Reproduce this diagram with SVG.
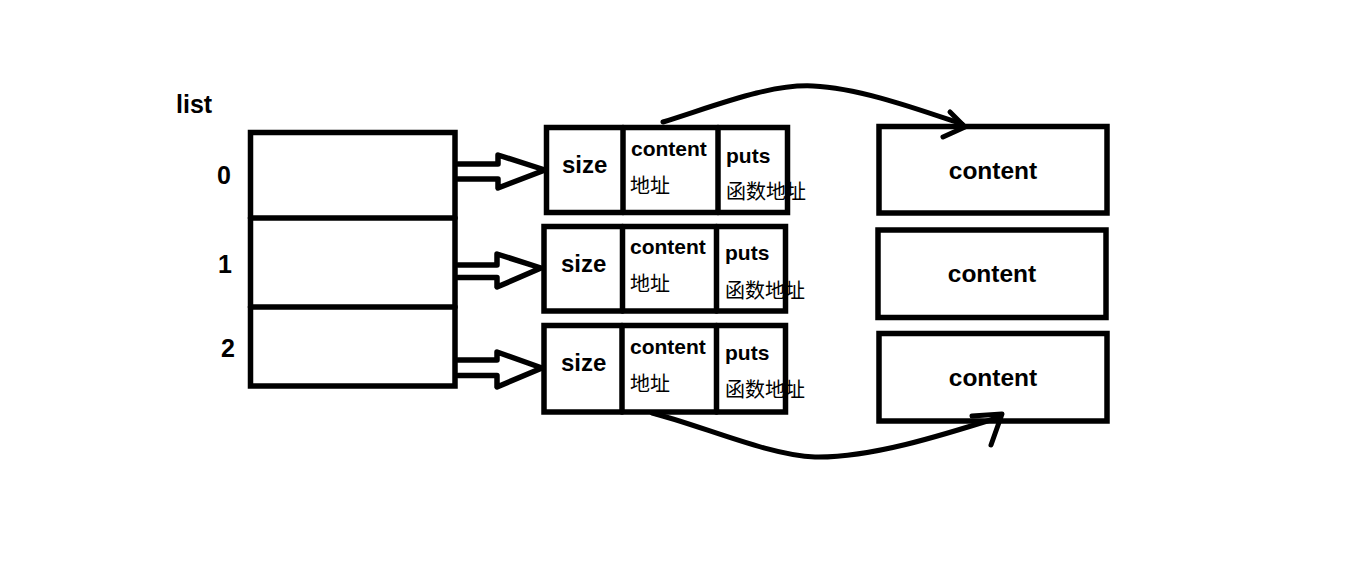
<svg xmlns="http://www.w3.org/2000/svg" width="1360" height="565" viewBox="0 0 1360 565">
<style>
.box{fill:#fff;stroke:#000;stroke-width:5.5}
.ln{fill:none;stroke:#000;stroke-width:5.5;stroke-linejoin:round;stroke-linecap:round}
.cv{fill:none;stroke:#000;stroke-width:5;stroke-linecap:round;stroke-linejoin:round}
.b{font-family:"Liberation Sans","Noto Sans CJK SC",sans-serif;font-weight:bold;fill:#000}
.cj{font-family:"Noto Sans CJK SC","Liberation Sans",sans-serif;font-size:20px;fill:#000}
</style>
<rect width="1360" height="565" fill="#fff"/>
<g id="list">
<text class="b" x="176" y="113" font-size="25">list</text>
<rect class="box" x="250.5" y="132.5" width="204.5" height="253.5"/>
<line class="ln" x1="250.5" y1="218" x2="455" y2="218" stroke-linecap="butt"/>
<line class="ln" x1="250.5" y1="307" x2="455" y2="307" stroke-linecap="butt"/>
<text class="b" x="217" y="184" font-size="25">0</text>
<text class="b" x="218" y="273" font-size="25">1</text>
<text class="b" x="221" y="357" font-size="25">2</text>
</g>
<g id="node0">
<rect class="box" x="546.5" y="127.5" width="241" height="85"/>
<line class="ln" x1="623" y1="127.5" x2="623" y2="212.5" stroke-linecap="butt"/>
<line class="ln" x1="718" y1="127.5" x2="718" y2="212.5" stroke-linecap="butt"/>
<text class="b" x="562" y="173" font-size="24">size</text>
<text class="b" x="631" y="156" font-size="21">content</text>
<text class="cj" x="630" y="193">地址</text>
<text class="b" x="726" y="163" font-size="21">puts</text>
<text class="cj" x="726" y="199">函数地址</text>
</g>
<g id="node1">
<rect class="box" x="544" y="226.5" width="241.5" height="84.5"/>
<line class="ln" x1="622.5" y1="226.5" x2="622.5" y2="311" stroke-linecap="butt"/>
<line class="ln" x1="716.5" y1="226.5" x2="716.5" y2="311" stroke-linecap="butt"/>
<text class="b" x="561" y="272" font-size="24">size</text>
<text class="b" x="630" y="254" font-size="21">content</text>
<text class="cj" x="630" y="291">地址</text>
<text class="b" x="725" y="260" font-size="21">puts</text>
<text class="cj" x="725" y="298">函数地址</text>
</g>
<g id="node2">
<rect class="box" x="544" y="325.5" width="241.5" height="86.5"/>
<line class="ln" x1="622" y1="325.5" x2="622" y2="412" stroke-linecap="butt"/>
<line class="ln" x1="716.5" y1="325.5" x2="716.5" y2="412" stroke-linecap="butt"/>
<text class="b" x="561" y="371" font-size="24">size</text>
<text class="b" x="630" y="354" font-size="21">content</text>
<text class="cj" x="630" y="391">地址</text>
<text class="b" x="725" y="360" font-size="21">puts</text>
<text class="cj" x="725" y="397">函数地址</text>
</g>
<g id="content0">
<rect class="box" x="879" y="126.5" width="228" height="86.5"/>
<text class="b" x="993" y="179" font-size="24.5" text-anchor="middle">content</text>
</g>
<g id="content1">
<rect class="box" x="878" y="230" width="228" height="87.5"/>
<text class="b" x="992" y="282" font-size="24.5" text-anchor="middle">content</text>
</g>
<g id="content2">
<rect class="box" x="879" y="333.5" width="228" height="87.5"/>
<text class="b" x="993" y="386" font-size="24.5" text-anchor="middle">content</text>
</g>
<g id="connectors">
<path class="ln" d="M458,164 L498,164 L498,155 L545,170 L498,188 L498,179 L458,179"/>
<path class="ln" d="M458,265 L497,265 L497,254 L541,268 L497,287 L497,277.5 L458,277.5"/>
<path class="ln" d="M458,360 L497,360 L497,352 L542,368 L497,387 L497,375.5 L458,375.5"/>
<path class="cv" d="M663,122 C720,104 770,84 813,86 C860,88 920,110 962,124"/>
<path class="cv" d="M950,112 L965,127 L943,137"/>
<path class="cv" d="M652,413 C700,425 770,456 815,457 C870,458 940,436 1000,417"/>
<path class="cv" d="M972,416 L1002,414 L991,445"/>
</g>
</svg>
